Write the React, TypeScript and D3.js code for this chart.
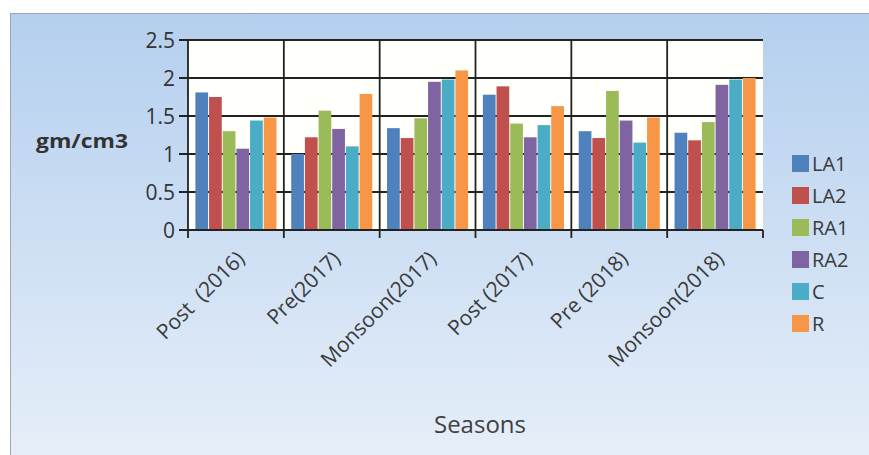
import * as d3 from "d3";

// seasons on the x axis
const seasons = [
  "Post  (2016)",
  "Pre(2017)",
  "Monsoon(2017)",
  "Post (2017)",
  "Pre (2018)",
  "Monsoon(2018)",
];
const seriesNames = ["LA1", "LA2", "RA1", "RA2", "C", "R"];
const seriesColors = ["#4f81bd", "#c0504d", "#9bbb59", "#8064a2", "#4bacc6", "#f79646"];

// bulk density, one array per series (gm/cm3)
const LA1 = [1.81, 1.0, 1.34, 1.78, 1.3, 1.28];
const LA2 = [1.75, 1.22, 1.21, 1.89, 1.21, 1.18];
const RA1 = [1.3, 1.57, 1.47, 1.4, 1.83, 1.42];
const RA2 = [1.07, 1.33, 1.95, 1.22, 1.44, 1.91];
const C = [1.44, 1.1, 1.98, 1.38, 1.15, 1.98];
const R = [1.48, 1.79, 2.1, 1.63, 1.48, 2.0];
const yTicks = [0, 0.5, 1, 1.5, 2, 2.5];

const W = 869;
const H = 455;
const font = "'Open Sans', sans-serif";

export default function App() {
  const values = [LA1, LA2, RA1, RA2, C, R];
  const left = 188,
    right = 763,
    top = 40,
    bottom = 230;

  const x0 = d3.scaleBand().domain(seasons).range([left, right]);
  const x1 = d3
    .scaleBand()
    .domain(seriesNames)
    .range([0, x0.bandwidth()])
    .paddingInner(0.07)
    .paddingOuter(0.54);
  const y = d3.scaleLinear().domain([0, 2.5]).range([bottom, top]);

  const boundaries = seasons.map((s) => x0(s) as number).concat([right]);

  return (
    <svg
      width={W}
      height={H}
      style={{ position: "absolute", left: 0, top: 0 }}
      fontFamily={font}
    >
      <defs>
        <linearGradient id="bg" x1="0" y1="0" x2="0" y2="1">
          <stop offset="0" stopColor="#b4cfee" />
          <stop offset="1" stopColor="#e7eff9" />
        </linearGradient>
      </defs>
      <rect x={0} y={0} width={W} height={H} fill="#fff" />
      <rect x={10.5} y={13.5} width={W} height={H} fill="url(#bg)" stroke="#a0a6ad" />

      {/* plot area */}
      <rect x={left} y={top} width={right - left} height={bottom - top} fill="#fffffb" />

      {/* horizontal grid + y ticks */}
      {yTicks.map((t) => (
        <g key={t}>
          <line x1={left - 9} x2={right} y1={y(t)} y2={y(t)} stroke="#222" strokeWidth={1.8} />
          <text
            x={left - 13}
            y={y(t)}
            textAnchor="end"
            dominantBaseline="central"
            fontSize={21}
            fill="#333"
          >
            {t}
          </text>
        </g>
      ))}

      {/* vertical category lines */}
      {boundaries.map((b, i) => (
        <line
          key={i}
          x1={b}
          x2={b}
          y1={i === boundaries.length - 1 ? bottom : top}
          y2={bottom + 8}
          stroke="#222"
          strokeWidth={1.8}
        />
      ))}

      {/* bars */}
      {seasons.map((s, ci) => (
        <g key={s} transform={`translate(${x0(s)},0)`}>
          {seriesNames.map((n, si) => (
            <rect
              key={n}
              x={x1(n)}
              y={y(values[si][ci])}
              width={x1.bandwidth()}
              height={bottom - y(values[si][ci])}
              fill={seriesColors[si]}
            />
          ))}
        </g>
      ))}
      <line x1={left} x2={right} y1={bottom} y2={bottom} stroke="#222" strokeWidth={1.8} />

      {/* x labels */}
      {seasons.map((s) => {
        const cx = (x0(s) as number) + x0.bandwidth() / 2;
        return (
          <text
            key={s}
            transform={`translate(${cx + 10},${bottom + 30}) rotate(-45)`}
            textAnchor="end"
            fontSize={21}
            fill="#3a3a3a"
            style={{ whiteSpace: "pre" }}
          >
            {s}
          </text>
        );
      })}

      {/* axis titles */}
      <text
        x={82}
        y={140}
        textAnchor="middle"
        dominantBaseline="central"
        fontSize={20}
        fontWeight="bold"
        fill="#333"
        textLength={92}
        lengthAdjust="spacingAndGlyphs"
      >
        gm/cm3
      </text>
      <text x={480} y={423} textAnchor="middle" dominantBaseline="central" fontSize={24} fill="#404040">
        Seasons
      </text>

      {/* legend */}
      {seriesNames.map((n, i) => (
        <g key={n} transform={`translate(792,${163 + i * 32})`}>
          <rect x={0} y={-8} width={17} height={17} fill={seriesColors[i]} />
          <text x={20} y={0} dominantBaseline="central" fontSize={20} fill="#3a3a3a">
            {n}
          </text>
        </g>
      ))}
    </svg>
  );
}
